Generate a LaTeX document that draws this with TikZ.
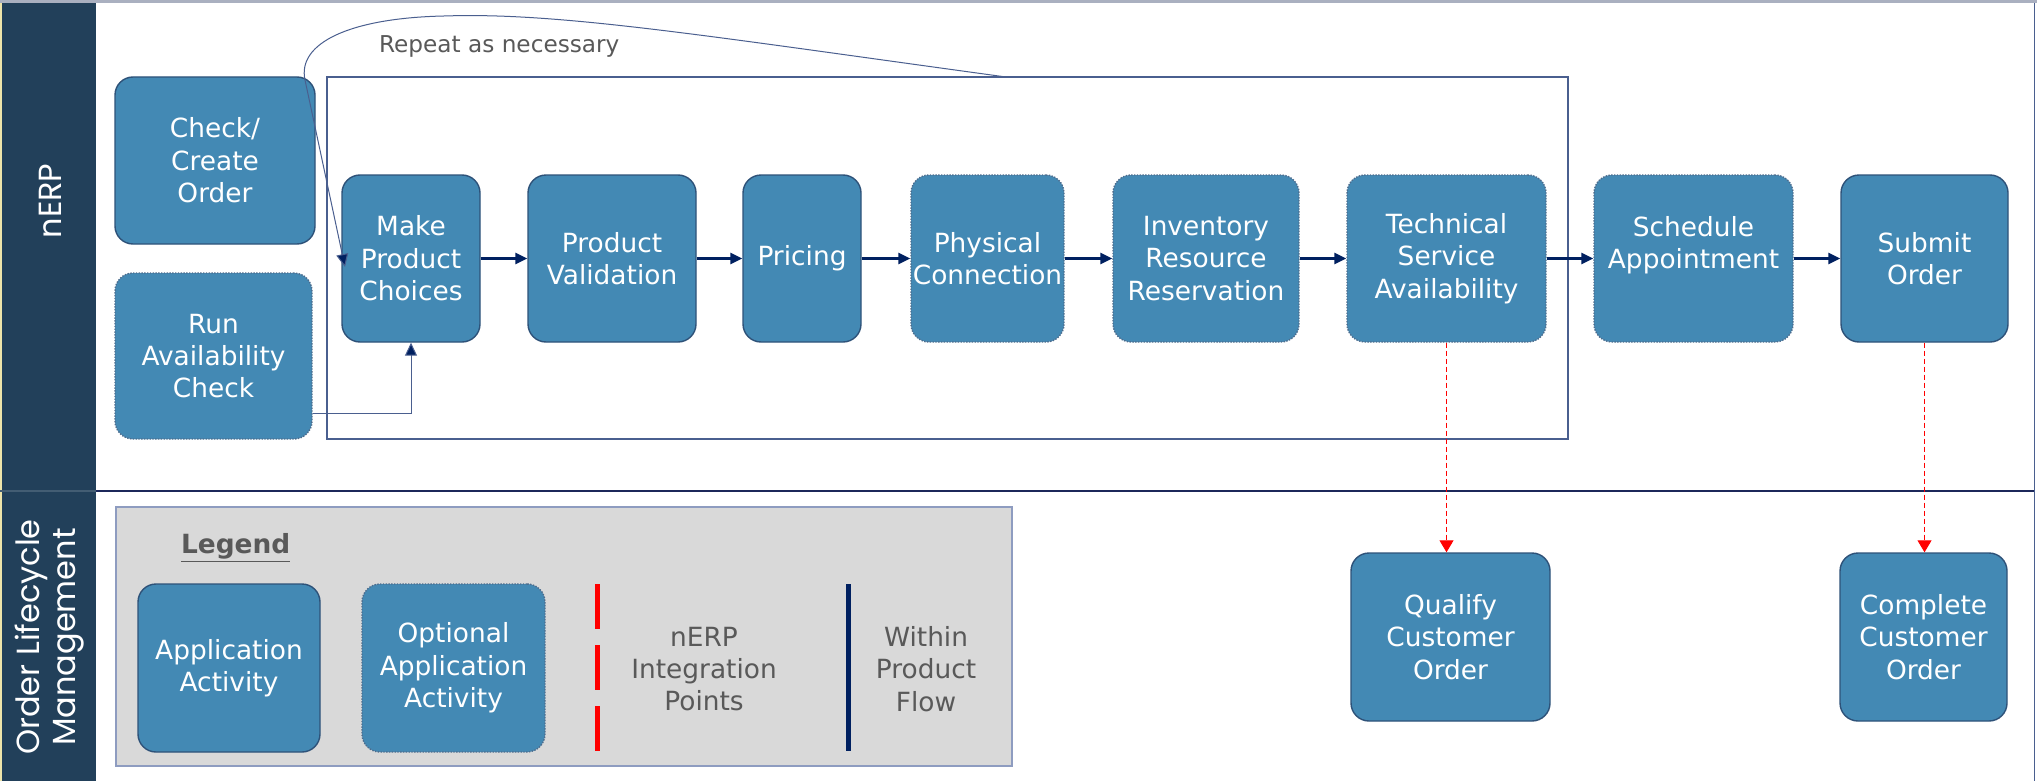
\documentclass[tikz,border=0pt]{standalone}
\usepackage{fontspec}
\setmainfont{DejaVu Sans}
\newfontfamily\lanefont{Poppins}
\usetikzlibrary{arrows.meta,calc}
\definecolor{boxblue}{RGB}{67,137,180}
\definecolor{boxedge}{RGB}{46,82,121}
\definecolor{bandc}{RGB}{34,64,90}
\definecolor{navyc}{RGB}{0,32,96}
\definecolor{textgray}{RGB}{89,89,89}
\definecolor{framegray}{RGB}{170,176,192}
\definecolor{repeatedge}{RGB}{74,95,143}
\definecolor{legendfill}{RGB}{217,217,217}
\definecolor{legendedge}{RGB}{142,156,192}
\definecolor{dividerc}{RGB}{28,40,90}
\definecolor{stripc}{RGB}{238,228,170}
\begin{document}
\begin{tikzpicture}[x=0.5pt,y=-0.5pt,
  act/.style={draw=boxedge, line width=0.7pt, fill=boxblue, rounded corners=9pt,
    text=white, align=center, inner sep=0pt, font=\fontsize{13.2}{16.2}\selectfont},
  optact/.style={act, draw=boxedge!85, dash pattern=on 0.7pt off 0.7pt},
  flow/.style={draw=navyc, line width=1.3pt, -{Triangle[length=6pt,width=5.5pt]}},
  thinflow/.style={draw=repeatedge, line width=0.5pt, -{Triangle[length=6.5pt,width=6pt,fill=navyc]}},
  integ/.style={draw=red, line width=0.5pt, dash pattern=on 2.5pt off 1.5pt, -{Triangle[length=6pt,width=7pt]}},
  grayt/.style={text=textgray, align=center, font=\fontsize{13.2}{16.2}\selectfont},
  lanet/.style={rotate=90, text=white, align=center, inner sep=0pt, font=\lanefont\fontsize{16}{18}\selectfont},
]
\useasboundingbox (0,0) rectangle (2037,781);
\fill[white] (0,0) rectangle (2037,781);

% frame and lanes
\fill[bandc] (0,3) rectangle (96,781);
\draw[stripc, line width=1pt] (1,3) -- (1,781);
\draw[framegray, line width=1.5pt] (0,1.5) -- (2037,1.5);
\draw[repeatedge, line width=0.5pt] (2034,3) -- (2034,781);
\draw[dividerc, line width=1pt] (96,491) -- (2034,491);
\draw[bandc!85!white, line width=0.6pt] (0,491) -- (96,491);

\node[lanet] (lane1) at (50,201) {nERP};
\node[lanet] (lane2) at (50,637) {Order Lifecycle\\Management};

% repeat region
\draw[repeatedge, line width=0.6pt] (327,77) rectangle (1568,439);
\node[anchor=base west, text=textgray, font=\fontsize{11.6}{14}\selectfont] (rep) at (372,53) {Repeat as necessary};

% activities
\node[act, minimum width=100pt, minimum height=83.5pt] (check) at (215,160.5) {Check/\\Create\\Order};
\node[optact, minimum width=98.5pt, minimum height=83pt] (run) at (213.5,356) {Run\\Availability\\Check};
\node[act, minimum width=69pt, minimum height=83.5pt] (make) at (411,258.5) {Make\\Product\\Choices};
\node[act, minimum width=84pt, minimum height=83.5pt] (pv) at (612,258.5) {Product\\Validation};
\node[act, minimum width=59pt, minimum height=83.5pt] (pricing) at (802,258.5) {Pricing};
\node[optact, minimum width=76.5pt, minimum height=83.5pt] (physical) at (987.5,258.5) {Physical\\Connection};
\node[optact, minimum width=93pt, minimum height=83.5pt] (inventory) at (1206,258.5) {Inventory\\Resource\\Reservation};
\node[optact, minimum width=99.5pt, minimum height=83.5pt] (technical) at (1446.5,258.5) {Technical\\Service\\Availability};
\node[optact, minimum width=99.5pt, minimum height=83.5pt] (schedule) at (1693.5,258.5) {Schedule\\Appointment\\\mbox{}};
\node[act, minimum width=83.5pt, minimum height=83.5pt] (submit) at (1924.5,258.5) {Submit\\Order};
\node[act, minimum width=99.5pt, minimum height=84pt] (qualify) at (1450.5,637) {Qualify\\Customer\\Order};
\node[act, minimum width=83.5pt, minimum height=84pt] (complete) at (1923.5,637) {Complete\\Customer\\Order};

% main flow
\draw[flow] (make.east) -- (pv.west);
\draw[flow] (pv.east) -- (pricing.west);
\draw[flow] (pricing.east) -- (physical.west);
\draw[flow] (physical.east) -- (inventory.west);
\draw[flow] (inventory.east) -- (technical.west);
\draw[flow] (technical.east) -- (schedule.west);
\draw[flow] (schedule.east) -- (submit.west);

% repeat loop and availability check
\coordinate (rtop) at (1006,77);
\coordinate (loopend) at (345,267);
\draw[thinflow] (rtop) .. controls (706,36) and (560,12) .. (444,16)
  .. controls (350,18) and (297,43) .. (305,80) -- (loopend);
\coordinate (ry) at (0,413);
\draw[thinflow] (run.east |- ry) -| (make.south);

% integration points
\draw[integ] (technical.south) -- (technical.south |- qualify.north);
\draw[integ] (submit.south) -- (submit.south |- complete.north);

% legend
\draw[legendedge, fill=legendfill, line width=0.8pt] (116,507) rectangle (1012,766);
\node[anchor=base west, text=textgray, font=\fontsize{13.2}{16}\selectfont\bfseries] (legtitle) at (174,553) {\underline{Legend}};
\node[act, minimum width=91pt, minimum height=84pt] (app) at (229,668) {Application\\Activity};
\node[optact, minimum width=91.5pt, minimum height=84pt] (opt) at (453.5,668) {Optional\\Application\\Activity};
\coordinate (ra) at (597,584);
\coordinate (rb) at (597,751);
\draw[red, line width=2.5pt, dash pattern=on 22.5pt off 8pt] (ra) -- (rb);
\node[grayt] (integtext) at (704,669) {nERP\\Integration\\Points};
\coordinate (na) at (848,584);
\coordinate (nb) at (848,751);
\draw[navyc, line width=2.5pt] (na) -- (nb);
\node[grayt] (withintext) at (926,669) {Within\\Product\\Flow};
\end{tikzpicture}
\end{document}
